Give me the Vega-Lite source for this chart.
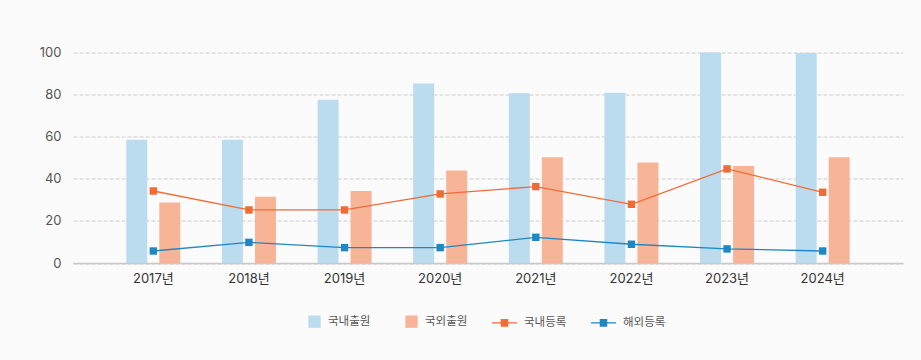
{
  "$schema": "https://vega.github.io/schema/vega-lite/v6.json",
  "width": 830,
  "height": 210.5,
  "autosize": {"type": "none"},
  "padding": {"left": 73, "top": 52.5, "right": 18, "bottom": 97},
  "background": "#fbfbfb",
  "config": {
    "view": {"stroke": null},
    "font": "Inter, Noto Sans CJK KR",
    "axis": {"labelFont": "Inter, Noto Sans CJK KR"},
    "legend": {"labelFont": "Inter, Noto Sans CJK KR"}
  },
  "data": {
    "values": [
      {"year": "2017년", "series": "국내출원", "value": 58.5},
      {"year": "2018년", "series": "국내출원", "value": 58.5},
      {"year": "2019년", "series": "국내출원", "value": 77.5},
      {"year": "2020년", "series": "국내출원", "value": 85.3},
      {"year": "2021년", "series": "국내출원", "value": 80.6},
      {"year": "2022년", "series": "국내출원", "value": 80.9},
      {"year": "2023년", "series": "국내출원", "value": 100},
      {"year": "2024년", "series": "국내출원", "value": 99.8},
      {"year": "2017년", "series": "국외출원", "value": 28.8},
      {"year": "2018년", "series": "국외출원", "value": 31.5},
      {"year": "2019년", "series": "국외출원", "value": 34.2},
      {"year": "2020년", "series": "국외출원", "value": 43.9},
      {"year": "2021년", "series": "국외출원", "value": 50.2},
      {"year": "2022년", "series": "국외출원", "value": 47.8},
      {"year": "2023년", "series": "국외출원", "value": 46.1},
      {"year": "2024년", "series": "국외출원", "value": 50.2},
      {"year": "2017년", "series": "국내등록", "value": 34.2},
      {"year": "2018년", "series": "국내등록", "value": 25.2},
      {"year": "2019년", "series": "국내등록", "value": 25.2},
      {"year": "2020년", "series": "국내등록", "value": 32.8},
      {"year": "2021년", "series": "국내등록", "value": 36.3},
      {"year": "2022년", "series": "국내등록", "value": 27.9},
      {"year": "2023년", "series": "국내등록", "value": 44.7},
      {"year": "2024년", "series": "국내등록", "value": 33.6},
      {"year": "2017년", "series": "해외등록", "value": 5.7},
      {"year": "2018년", "series": "해외등록", "value": 9.8},
      {"year": "2019년", "series": "해외등록", "value": 7.3},
      {"year": "2020년", "series": "해외등록", "value": 7.3},
      {"year": "2021년", "series": "해외등록", "value": 12.2},
      {"year": "2022년", "series": "해외등록", "value": 8.9},
      {"year": "2023년", "series": "해외등록", "value": 6.7},
      {"year": "2024년", "series": "해외등록", "value": 5.7}
    ]
  },
  "encoding": {
    "x": {
      "field": "year",
      "type": "nominal",
      "sort": null,
      "title": null,
      "scale": {"paddingInner": 0, "paddingOuter": 0.34},
      "axis": {
        "labelAngle": 0,
        "labelFontSize": 13,
        "labelColor": "#333333",
        "labelPadding": 9,
        "ticks": false,
        "domainColor": "#c8c8c8",
        "domainWidth": 1.5,
        "grid": false
      }
    },
    "y": {
      "field": "value",
      "type": "quantitative",
      "title": null,
      "scale": {"domain": [0, 100], "nice": false},
      "axis": {
        "values": [0, 20, 40, 60, 80, 100],
        "labelOverlap": false,
        "labelFontSize": 13,
        "labelColor": "#555555",
        "labelPadding": 12,
        "ticks": false,
        "tickSize": 0,
        "domain": false,
        "grid": true,
        "gridColor": "#cccccc",
        "gridDash": [4, 2],
        "gridWidth": 1
      }
    },
    "color": {
      "field": "series",
      "type": "nominal",
      "scale": {
        "domain": ["국내출원", "국외출원", "국내등록", "해외등록"],
        "range": ["#bbdbef", "#f8b496", "#f26b35", "#1e87c5"]
      },
      "legend": {
        "title": null,
        "orient": "none",
        "direction": "horizontal",
        "legendX": 222,
        "legendY": 255.5,
        "padding": 0,
        "symbolSize": 625,
        "labelFontSize": 11.5,
        "labelColor": "#555555",
        "labelOffset": 6,
        "columnPadding": 21,
        "encode": {
          "symbols": {
            "update": {
              "shape": [
                {"test": "indexof(['국내등록','해외등록'], datum.value) >= 0", "value": "M-1,0H1M-0.25,-0.25H0.25V0.25H-0.25Z"},
                {"value": "M0.04,-0.44H0.92V0.44H0.04Z"}
              ],
              "stroke": [
                {"test": "indexof(['국내등록','해외등록'], datum.value) >= 0", "scale": "color", "field": "value"},
                {"value": "transparent"}
              ],
              "fill": {"scale": "color", "field": "value"},
              "strokeWidth": {"value": 1.3},
              "opacity": {"value": 1}
            }
          }
        }
      }
    }
  },
  "layer": [
    {
      "transform": [{"filter": {"field": "series", "oneOf": ["국내출원", "국외출원"]}}],
      "mark": {"type": "bar"},
      "encoding": {
        "xOffset": {
          "field": "series",
          "type": "nominal",
          "sort": ["국내출원", "국외출원"],
          "scale": {"paddingInner": 0.364, "paddingOuter": 0.63}
        }
      }
    },
    {
      "transform": [{"filter": {"field": "series", "oneOf": ["국내등록", "해외등록"]}}],
      "mark": {"type": "line", "strokeWidth": 1.3},
      "encoding": {}
    },
    {
      "transform": [{"filter": {"field": "series", "oneOf": ["국내등록", "해외등록"]}}],
      "mark": {"type": "point", "shape": "square", "filled": true, "size": 55, "opacity": 1},
      "encoding": {}
    }
  ]
}
